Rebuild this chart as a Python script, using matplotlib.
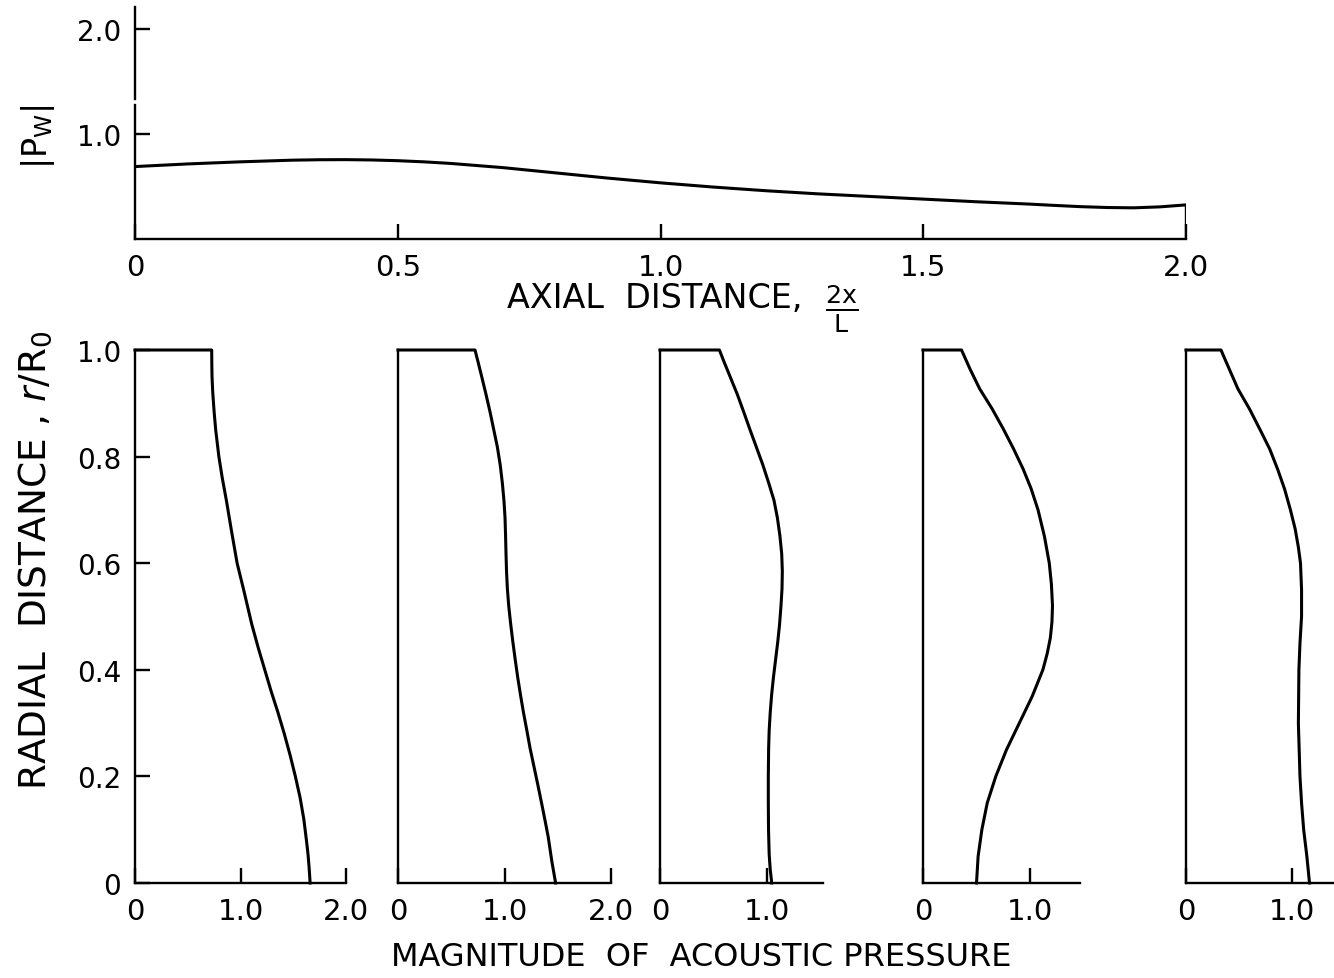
import matplotlib
matplotlib.use('Agg')
import matplotlib.pyplot as plt
from matplotlib.lines import Line2D

plt.rcParams['font.family'] = ['DejaVu Sans']
plt.rcParams['mathtext.fontset'] = 'dejavusans'

# ---- top panel: wall pressure amplitude vs axial distance 2x/L ----
axial_x = [0.0, 0.1, 0.2, 0.3, 0.35, 0.4, 0.45, 0.5, 0.55, 0.6, 0.65, 0.7, 0.8, 0.9, 1.0,
           1.1, 1.2, 1.3, 1.4, 1.5, 1.6, 1.7, 1.75, 1.8, 1.85, 1.9, 1.95, 2.0]
pw_mag = [0.69, 0.715, 0.735, 0.751, 0.755, 0.756, 0.753, 0.746, 0.735, 0.72, 0.70,
          0.68, 0.63, 0.58, 0.535, 0.495, 0.46, 0.43, 0.405, 0.38, 0.355, 0.333,
          0.32, 0.308, 0.30, 0.297, 0.306, 0.325]
top_xticks = [0, 0.5, 1.0, 1.5, 2.0]
top_xticklabels = ['0', '0.5', '1.0', '1.5', '2.0']
top_yticks = [1.0, 2.0]
top_yticklabels = ['1.0', '2.0']

# ---- bottom panels: radial profiles of acoustic pressure magnitude ----
r_1 = [1.0, 0.975, 0.95, 0.92, 0.884, 0.85, 0.8, 0.76, 0.718, 0.66, 0.6, 0.55, 0.486,
       0.44, 0.4, 0.36, 0.32, 0.28, 0.24, 0.2, 0.16, 0.12, 0.08, 0.054, 0.03, 0.0]
p_1 = [0.727, 0.728, 0.73, 0.737, 0.75, 0.765, 0.795, 0.827, 0.866, 0.915, 0.968, 1.03,
       1.106, 1.17, 1.23, 1.29, 1.355, 1.415, 1.47, 1.52, 1.565, 1.60, 1.625, 1.64,
       1.65, 1.66]

r_2 = [1.0, 0.975, 0.95, 0.917, 0.884, 0.818, 0.784, 0.75, 0.717, 0.685, 0.652, 0.619,
       0.585, 0.552, 0.519, 0.486, 0.453, 0.42, 0.386, 0.353, 0.32, 0.286, 0.253,
       0.22, 0.187, 0.153, 0.12, 0.087, 0.04, 0.0]
p_2 = [0.723, 0.755, 0.786, 0.826, 0.864, 0.933, 0.96, 0.98, 0.995, 1.005, 1.010,
       1.014, 1.019, 1.027, 1.04, 1.058, 1.078, 1.10, 1.124, 1.15, 1.178, 1.21, 1.24,
       1.275, 1.31, 1.345, 1.378, 1.41, 1.445, 1.48]

r_3 = [1.0, 0.977, 0.95, 0.918, 0.885, 0.851, 0.818, 0.785, 0.751, 0.718, 0.685,
       0.652, 0.618, 0.585, 0.552, 0.519, 0.485, 0.452, 0.419, 0.386, 0.353, 0.32,
       0.286, 0.253, 0.2, 0.153, 0.1, 0.054, 0.025, 0.0]
p_3 = [0.555, 0.60, 0.655, 0.72, 0.78, 0.84, 0.90, 0.96, 1.015, 1.065, 1.097, 1.12,
       1.137, 1.143, 1.14, 1.13, 1.117, 1.10, 1.08, 1.06, 1.043, 1.03, 1.02, 1.015,
       1.012, 1.012, 1.014, 1.02, 1.03, 1.044]

r_4 = [1.0, 0.964, 0.927, 0.89, 0.852, 0.815, 0.777, 0.74, 0.70, 0.65, 0.6, 0.56,
       0.52, 0.49, 0.46, 0.43, 0.4, 0.35, 0.3, 0.25, 0.2, 0.15, 0.1, 0.05, 0.0]
p_4 = [0.36, 0.44, 0.53, 0.645, 0.75, 0.845, 0.935, 1.01, 1.075, 1.135, 1.18, 1.20,
       1.21, 1.205, 1.19, 1.16, 1.12, 1.02, 0.90, 0.78, 0.68, 0.60, 0.55, 0.515, 0.50]

r_5 = [1.0, 0.977, 0.927, 0.889, 0.85, 0.814, 0.776, 0.739, 0.70, 0.664, 0.63, 0.6,
       0.55, 0.5, 0.45, 0.4, 0.3, 0.2, 0.15, 0.1, 0.05, 0.0]
p_5 = [0.33, 0.38, 0.49, 0.60, 0.70, 0.79, 0.865, 0.93, 0.985, 1.03, 1.06, 1.08,
       1.09, 1.09, 1.075, 1.065, 1.06, 1.075, 1.09, 1.11, 1.14, 1.165]

profiles_r = [r_1, r_2, r_3, r_4, r_5]
profiles_p = [p_1, p_2, p_3, p_4, p_5]
panel_xmax = [2.0, 2.0, 1.523, 1.467, 1.396]
panel_xticks = [[0, 1.0, 2.0], [0, 1.0, 2.0], [0, 1.0], [0, 1.0], [0, 1.0]]
panel_xticklabels = [['0', '1.0', '2.0'], ['0', '1.0', '2.0'], ['0', '1.0'],
                     ['0', '1.0'], ['0', '1.0']]
radial_yticks = [0, 0.2, 0.4, 0.6, 0.8, 1.0]
radial_yticklabels = ['0', '0.2', '0.4', '0.6', '0.8', '1.0']

# ---- layout ----
W, H = 1334, 979
fig = plt.figure(figsize=(W / 100, H / 100), dpi=100)


def box(left, bottom, right, top):
    return [left / W, 1 - bottom / H, (right - left) / W, (bottom - top) / H]


SPW = 1.7
CLW = 2.2
TICKFS = 21
LABFS = 23


def style(ax):
    for s in ['top', 'right']:
        ax.spines[s].set_visible(False)
    for s in ['left', 'bottom']:
        ax.spines[s].set_linewidth(SPW)
    ax.tick_params(direction='in', length=11, width=SPW, labelsize=TICKFS, pad=10)


# top panel
ax = fig.add_axes(box(135, 240, 1186, 8))
style(ax)
ax.plot(axial_x, pw_mag, color='k', lw=CLW, solid_joinstyle='round')
ax.vlines(axial_x[-1], 0, pw_mag[-1], color='k', lw=SPW)
ax.set_xlim(0, 2.0)
ax.set_ylim(0, 2.21)
ax.set_xticks(top_xticks)
ax.set_xticklabels(top_xticklabels)
ax.set_yticks(top_yticks)
ax.set_yticklabels(top_yticklabels, fontsize=20)
# broken left axis
ax.spines['left'].set_bounds(0, 1.276)
ax.add_line(Line2D([0, 0], [1.333, 2.21], color='k', lw=SPW, clip_on=False))

# bottom panels
lefts = [135, 398, 660, 923, 1186]
widths_px = [211, 213, 163, 157, 148]
for i in range(5):
    a = fig.add_axes(box(lefts[i], 884, lefts[i] + widths_px[i], 351))
    style(a)
    rr = [profiles_r[i][0]] + profiles_r[i]
    pp = [0.0] + profiles_p[i]
    a.plot(pp, rr, color='k', lw=CLW, clip_on=False, solid_joinstyle='round')
    a.set_xlim(0, panel_xmax[i])
    a.set_ylim(0, 1.0)
    a.set_xticks(panel_xticks[i])
    a.set_xticklabels(panel_xticklabels[i])
    if i == 0:
        a.set_yticks(radial_yticks)
        a.set_yticklabels(radial_yticklabels, fontsize=20)
    else:
        a.set_yticks([])

# labels
fig.text(38 / W, 1 - 137 / H, r'$|\mathrm{P}_\mathrm{W}|$', rotation=90,
         ha='center', va='center', fontsize=24)
fig.text(655 / W, 1 - 299 / H, 'AXIAL  DISTANCE,', ha='center', va='center',
         fontsize=24)
fig.text(842 / W, 1 - 309 / H, r'$\frac{\mathrm{2x}}{\mathrm{L}}$', ha='center',
         va='center', fontsize=26)
fig.text(35 / W, 1 - 560 / H, r'RADIAL  DISTANCE , $r/\mathrm{R}_0$', rotation=90,
         ha='center', va='center', fontsize=27)
fig.text(701 / W, 1 - 958 / H, 'MAGNITUDE  OF  ACOUSTIC PRESSURE', ha='center',
         va='center', fontsize=LABFS)

fig.savefig('out.png', dpi=100)
